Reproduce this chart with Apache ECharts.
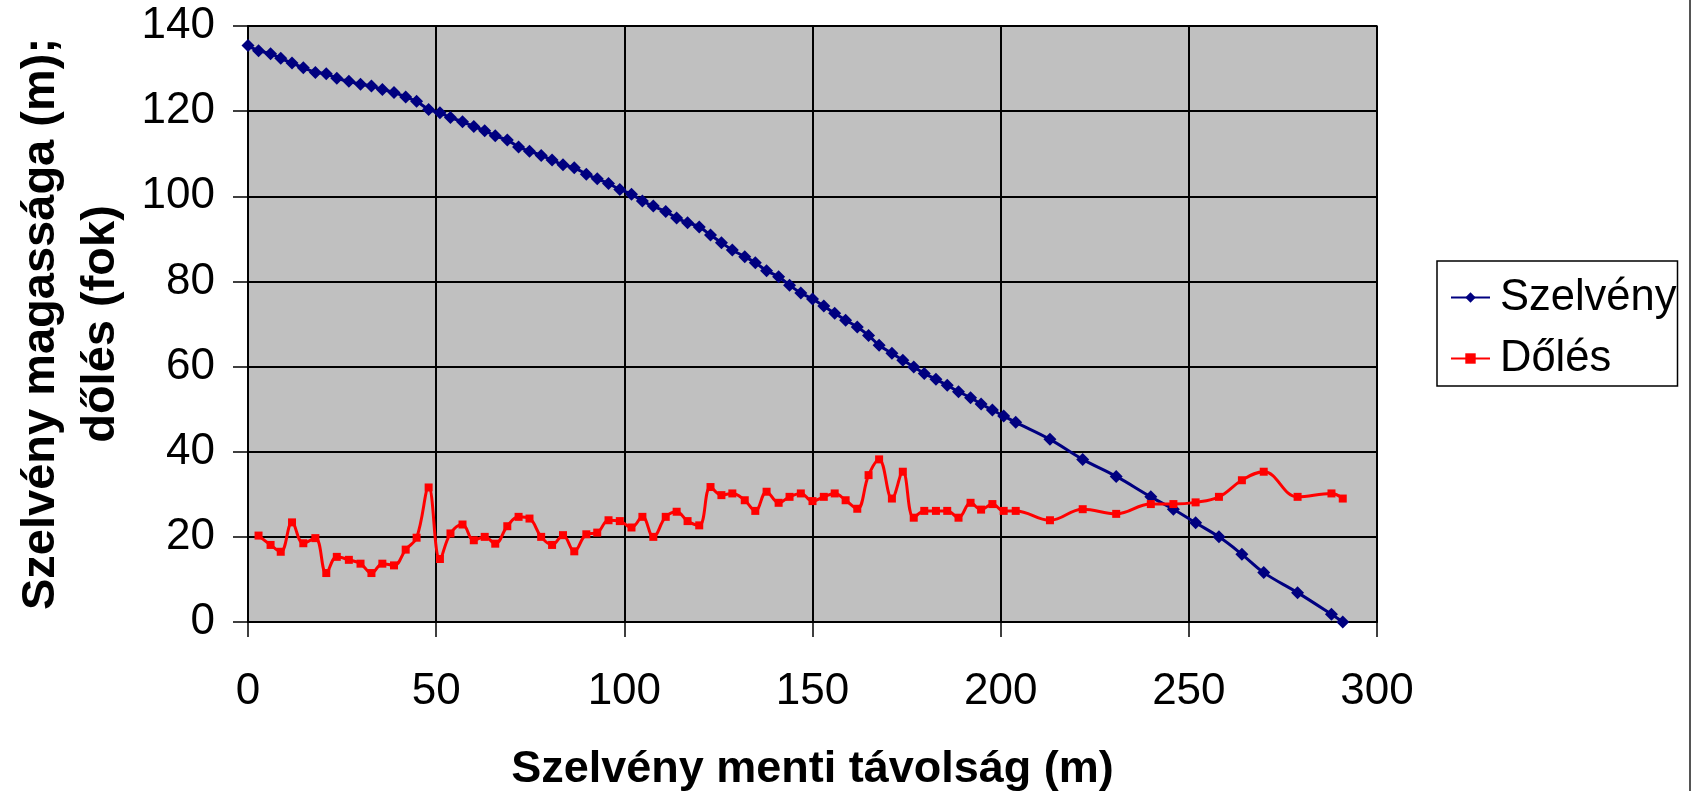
<!DOCTYPE html>
<html>
<head>
<meta charset="utf-8">
<title>Szelvény</title>
<script src="https://cdn.jsdelivr.net/npm/echarts@6/dist/echarts.min.js"></script>
<style>
  html, body { margin: 0; padding: 0; background: #fff; }
  #chart { width: 1700px; height: 791px; }
</style>
</head>
<body>
<div id="chart"></div>
<script>
// szelvény menti távolság (m)
var dist = [0, 2.8, 6.0, 8.7, 11.7, 14.7, 17.9, 20.8, 23.6, 26.8, 29.9, 32.8, 35.7, 38.8, 41.9, 44.8,
  48.0, 51.0, 53.8, 57.0, 60.0, 62.9, 65.7, 68.9, 71.9, 74.8, 77.9, 80.8, 83.7, 86.7, 89.9, 92.8,
  95.8, 98.8, 101.9, 104.8, 107.7, 111.0, 113.9, 116.8, 119.9, 122.9, 125.8, 128.7, 132.0, 134.8,
  137.8, 141.0, 143.9, 146.9, 150.0, 153.0, 155.9, 158.8, 161.9, 164.9, 167.7, 171.1, 174.0, 176.9,
  179.7, 182.8, 185.8, 188.8, 192.0, 194.8, 197.8, 200.8, 204.0, 213.1, 221.8, 230.7, 239.9, 245.9,
  251.8, 258.0, 264.1, 269.9, 278.9, 287.9, 290.9];

// szelvény magassága (m)
var height = [135.4, 134.2, 133.5, 132.4, 131.3, 130.2, 129.1, 128.8, 127.7, 127.0, 126.3, 125.9, 125.1,
  124.4, 123.3, 122.3, 120.4, 119.6, 118.5, 117.5, 116.4, 115.4, 114.2, 113.2, 111.6, 110.6, 109.6,
  108.5, 107.4, 106.7, 105.2, 104.1, 103.0, 101.6, 100.5, 98.9, 97.7, 96.4, 94.9, 93.8, 92.8, 90.9,
  89.1, 87.4, 85.8, 84.4, 82.5, 81.1, 79.1, 77.3, 75.9, 74.2, 72.5, 70.9, 69.3, 67.3, 65.0, 63.1,
  61.5, 59.9, 58.4, 57.0, 55.6, 54.1, 52.7, 51.2, 49.8, 48.4, 46.9, 42.9, 38.2, 34.2, 29.4, 26.5,
  23.3, 20.0, 15.9, 11.6, 6.9, 1.8, 0.0];

// dőlés (fok) - az első pontnál nincs érték
var dip = [null, 20.3, 18.1, 16.5, 23.4, 18.5, 19.7, 11.5, 15.3, 14.6, 13.7, 11.5, 13.7, 13.3, 17.0,
  19.8, 31.6, 14.8, 20.8, 22.9, 19.2, 20.0, 18.4, 22.5, 24.7, 24.3, 20.0, 18.1, 20.4, 16.6, 20.6,
  21.0, 23.9, 23.7, 22.2, 24.7, 20.0, 24.7, 25.9, 23.7, 22.7, 31.7, 29.8, 30.2, 28.6, 26.1, 30.6,
  28.0, 29.4, 30.2, 28.4, 29.4, 30.2, 28.6, 26.6, 34.5, 38.2, 29.0, 35.3, 24.5, 26.1, 26.1, 26.1,
  24.5, 28.0, 26.4, 27.7, 26.1, 26.1, 23.9, 26.5, 25.4, 27.7, 27.7, 28.1, 29.4, 33.3, 35.3, 29.4,
  30.2, 29.0];

var seriesNames = ["Szelvény", "Dőlés"];
var xTitle = "Szelvény menti távolság (m)";
var yTitle = "Szelvény magassága (m);\ndőlés (fok)";

var fontName = "'Liberation Sans', Arial, sans-serif";

function pairs(xs, ys) {
  var out = [];
  xs.forEach(function (x, i) {
    if (ys[i] !== null) out.push([x, ys[i]]);
  });
  return out;
}

var chart = echarts.init(document.getElementById("chart"));

var option = {
  backgroundColor: "#fff",
  animation: false,
  textStyle: { fontFamily: fontName },
  grid: {
    left: 248,
    top: 26,
    right: 323,
    bottom: 169,
    outerBoundsMode: "none",
    show: true,
    backgroundColor: "#c0c0c0",
    borderColor: "#808080",
    borderWidth: 2
  },
  legend: {
    orient: "vertical",
    left: 1437,
    top: 261,
    padding: [12, 1, 3, 13],
    itemGap: 12,
    itemWidth: 39,
    itemHeight: 13,
    backgroundColor: "#fff",
    borderColor: "#000",
    borderWidth: 1.5,
    borderRadius: 0,
    textStyle: {
      fontFamily: fontName,
      fontSize: 43.5,
      lineHeight: 49,
      padding: [0, 0, 0, 5],
      color: "#000"
    },
    data: seriesNames
  },
  xAxis: {
    type: "value",
    min: 0,
    max: 300,
    interval: 50,
    name: xTitle,
    nameLocation: "middle",
    nameGap: 125,
    nameTextStyle: {
      fontFamily: fontName,
      fontSize: 45,
      fontWeight: "bold",
      color: "#000"
    },
    axisLine: { show: true, onZero: false, lineStyle: { color: "#000", width: 2 } },
    axisTick: { show: true, inside: false, length: 15, lineStyle: { color: "#000", width: 1.5 } },
    axisLabel: { margin: 48, fontSize: 44, color: "#000", fontFamily: fontName },
    splitLine: { show: true, lineStyle: { color: "#000", width: 2 } }
  },
  yAxis: {
    type: "value",
    min: 0,
    max: 140,
    interval: 20,
    name: yTitle,
    nameLocation: "middle",
    nameRotate: 90,
    nameGap: 116,
    nameTextStyle: {
      fontFamily: fontName,
      fontSize: 47,
      fontWeight: "bold",
      lineHeight: 60,
      color: "#000",
      align: "center"
    },
    axisLine: { show: true, onZero: false, lineStyle: { color: "#000", width: 2 } },
    axisTick: { show: true, inside: false, length: 15, lineStyle: { color: "#000", width: 1.5 } },
    axisLabel: { margin: 33, fontSize: 44, color: "#000", fontFamily: fontName },
    splitLine: { show: true, lineStyle: { color: "#000", width: 2 } }
  },
  series: [
    {
      name: seriesNames[0],
      type: "line",
      smooth: 0.4,
      symbol: "diamond",
      symbolSize: 13,
      showAllSymbol: true,
      lineStyle: { color: "#000080", width: 3 },
      itemStyle: { color: "#000080" },
      data: pairs(dist, height)
    },
    {
      name: seriesNames[1],
      type: "line",
      smooth: 0.4,
      symbol: "rect",
      symbolSize: 8,
      showAllSymbol: true,
      lineStyle: { color: "#ff0000", width: 3 },
      itemStyle: { color: "#ff0000" },
      data: pairs(dist, dip)
    }
  ],
  graphic: [
    {
      // a diagramterület jobb széle
      type: "line",
      shape: { x1: 1690, y1: 0, x2: 1690, y2: 791 },
      style: { stroke: "#555", lineWidth: 2 }
    }
  ]
};

chart.setOption(option);
</script>
</body>
</html>
